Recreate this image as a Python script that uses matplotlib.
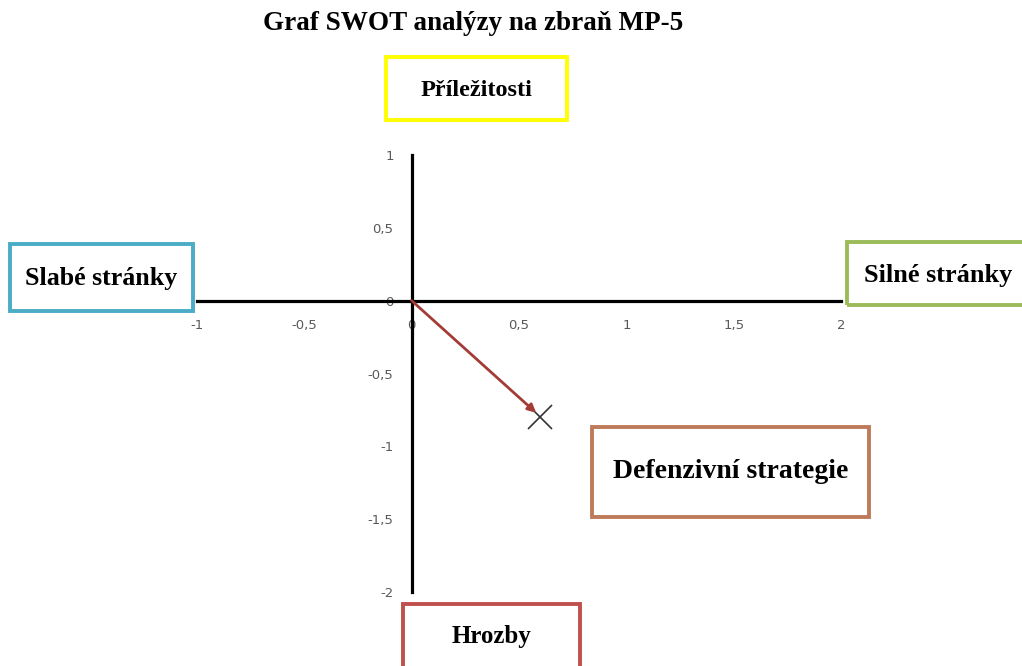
import matplotlib.pyplot as plt
from matplotlib.patches import Rectangle
from matplotlib.ticker import FuncFormatter

# SWOT result point and axis ticks
point_x = [0.6]
point_y = [-0.8]
x_ticks = [-1, -0.5, 0, 0.5, 1, 1.5, 2]
y_ticks = [-2, -1.5, -1, -0.5, 0, 0.5, 1]

title = "Graf SWOT analýzy na zbraň MP-5"
quadrant_labels = ["Příležitosti", "Slabé stránky", "Silné stránky", "Hrozby"]
strategy_label = "Defenzivní strategie"

W, H = 1022, 666
fig = plt.figure(figsize=(W / 100, H / 100), dpi=100)
ax = fig.add_axes([197 / W, (H - 592) / H, (841 - 197) / W, (592 - 155) / H])

ax.set_xlim(x_ticks[0], x_ticks[-1])
ax.set_ylim(y_ticks[0], y_ticks[-1])
for side in ["top", "right"]:
    ax.spines[side].set_visible(False)
for side in ["left", "bottom"]:
    ax.spines[side].set_position(("data", 0))
    ax.spines[side].set_linewidth(2.3)
    ax.spines[side].set_color("black")

comma = FuncFormatter(lambda v, p: f"{v:g}".replace(".", ","))
ax.set_xticks(x_ticks)
ax.set_yticks(y_ticks)
ax.xaxis.set_major_formatter(comma)
ax.yaxis.set_major_formatter(comma)
ax.tick_params(axis="x", length=0, pad=13, labelsize=9.5, labelcolor="#595959")
ax.tick_params(axis="y", length=0, pad=13, labelsize=9.5, labelcolor="#595959")
ax.patch.set_visible(False)

# vector from origin to result
ax.annotate("", xy=(point_x[0] - 0.02, point_y[0] + 0.03), xytext=(0, 0),
            arrowprops=dict(arrowstyle="-|>", color="#A33B36", lw=2,
                            mutation_scale=12, shrinkA=0, shrinkB=0))
ax.plot(point_x, point_y, marker="x", color="#333333", markersize=17,
        markeredgewidth=1.2, linestyle="none")

fig.text(473 / W, 1 - 23 / H, title, ha="center", va="center",
         family="Liberation Serif", weight="bold", fontsize=19.5)

# labelled boxes: (label, left, top, right, bottom, text y, colour, fontsize) in pixels
boxes = [
    (quadrant_labels[0], 386, 57, 567, 120, 90, "#FFFF00", 17.5),
    (quadrant_labels[1], 10, 244, 193, 311, 278, "#4BACC6", 18.7),
    (quadrant_labels[2], 847, 242, 1030, 305, 275, "#9BBB59", 18.9),
    (quadrant_labels[3], 403, 604, 580, 680, 637, "#C0504D", 18),
    (strategy_label, 592, 427, 869, 517, 472, "#BE7B5B", 20),
]
for label, l, t, r, b, ty, col, fs in boxes:
    rect = Rectangle((l / W, 1 - b / H), (r - l) / W, (b - t) / H,
                     transform=fig.transFigure, fill=False, edgecolor=col,
                     linewidth=2.8, clip_on=False)
    fig.patches.append(rect)
    fig.text((l + r) / 2 / W, 1 - ty / H, label, ha="center", va="center",
             family="Liberation Serif", weight="bold", fontsize=fs)

fig.savefig("out.png", dpi=100)
